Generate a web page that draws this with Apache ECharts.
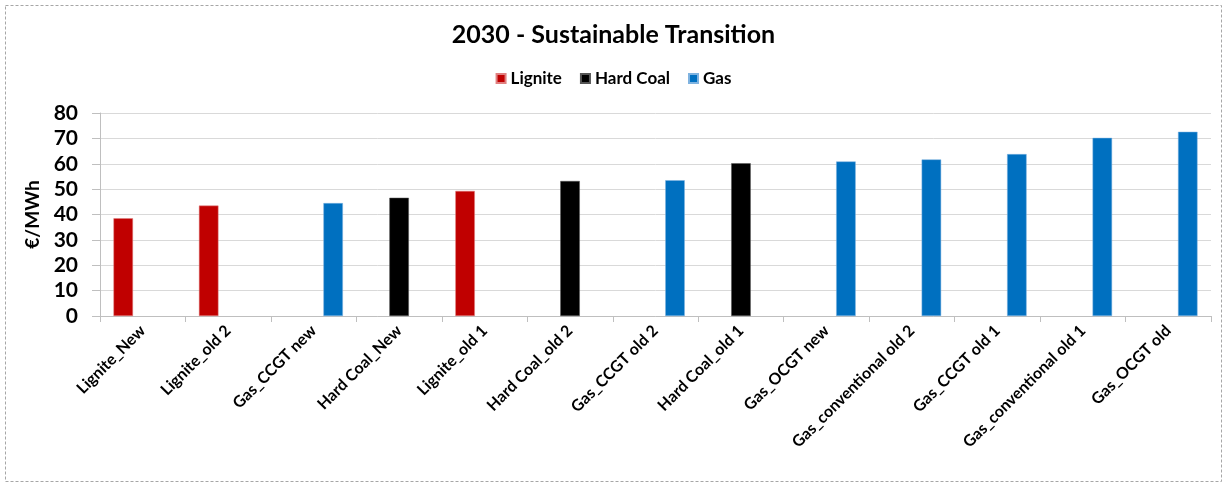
<!DOCTYPE html>
<html>
<head>
<meta charset="utf-8">
<script src="https://cdn.jsdelivr.net/npm/echarts@6/dist/echarts.min.js"></script>
<style>
  html, body { margin: 0; padding: 0; background: #fff; }
  #chart { width: 1227px; height: 486px; }
</style>
</head>
<body>
<div id="chart"></div>
<script>
// categories along the x axis
var categories = [
  'Lignite_New', 'Lignite_old 2', 'Gas_CCGT new', 'Hard Coal_New', 'Lignite_old 1',
  'Hard Coal_old 2', 'Gas_CCGT old 2', 'Hard Coal_old 1', 'Gas_OCGT new',
  'Gas_conventional old 2', 'Gas_CCGT old 1', 'Gas_conventional old 1', 'Gas_OCGT old'
]

// €/MWh per series, null where the series has no bar
var lignite  = [38.5, 43.5, null, null, 49.3, null, null, null, null, null, null, null, null]
var hardCoal = [null, null, null, 46.6, null, 53.2, null, 60.2, null, null, null, null, null]
var gas      = [null, null, 44.5, null, null, null, 53.5, null, 60.9, 61.7, 63.8, 70.2, 72.6]

var yTicks = [0, 10, 20, 30, 40, 50, 60, 70, 80]

var font = 'Lato, "Open Sans", sans-serif'

var chart = echarts.init(document.getElementById('chart'), null, { renderer: 'canvas' })

var option = {
  animation: false,
  backgroundColor: '#fff',
  title: {
    text: '2030 - Sustainable Transition',
    left: 'center',
    top: 17,
    textStyle: { fontFamily: font, fontWeight: 'bold', fontSize: 25, color: '#000' }
  },
  legend: {
    top: 65,
    left: 'center',
    itemWidth: 9,
    itemHeight: 9,
    itemGap: 18,
    icon: 'rect',
    textStyle: { fontFamily: font, fontWeight: 'bold', fontSize: 17, color: '#000' }
  },
  graphic: [{
    type: 'rect',
    shape: { x: 5.5, y: 5.5, width: 1216, height: 476 },
    style: { fill: null, stroke: '#a6a6a6', lineWidth: 1, lineDash: [3, 2] },
    silent: true
  }],
  grid: { left: 100, right: 16, top: 113, bottom: 170 },
  xAxis: {
    type: 'category',
    data: categories,
    axisLine: { lineStyle: { color: '#bfbfbf' } },
    axisTick: { show: true, length: 6, lineStyle: { color: '#bfbfbf' } },
    axisLabel: {
      rotate: 45,
      margin: 12,
      interval: 0,
      fontFamily: font, fontWeight: 'bold', fontSize: 16, color: '#000'
    }
  },
  yAxis: {
    type: 'value',
    min: yTicks[0],
    max: yTicks[yTicks.length - 1],
    interval: 10,
    name: '€/MWh',
    nameLocation: 'middle',
    nameGap: 48,
    nameTextStyle: { fontFamily: font, fontWeight: 'bold', fontSize: 19, color: '#000' },
    axisLine: { show: true, lineStyle: { color: '#bfbfbf' } },
    axisTick: { show: true, length: 8, lineStyle: { color: '#bfbfbf' } },
    axisLabel: { margin: 22, fontFamily: font, fontWeight: 'bold', fontSize: 21, color: '#000' },
    splitLine: { lineStyle: { color: '#d9d9d9' } }
  },
  series: [
    {
      name: 'Lignite', type: 'bar', data: lignite,
      barWidth: 19.5, barGap: '0%',
      itemStyle: { color: '#c00000', borderColor: '#e08080', borderWidth: 0.5 }
    },
    {
      name: 'Hard Coal', type: 'bar', data: hardCoal,
      barWidth: 19.5, barGap: '0%',
      itemStyle: { color: '#000000', borderColor: '#555', borderWidth: 0.5 }
    },
    {
      name: 'Gas', type: 'bar', data: gas,
      barWidth: 19.5, barGap: '0%',
      itemStyle: { color: '#0070c0', borderColor: '#7fb3e0', borderWidth: 0.5 }
    }
  ]
}

chart.setOption(option)
</script>
</body>
</html>
